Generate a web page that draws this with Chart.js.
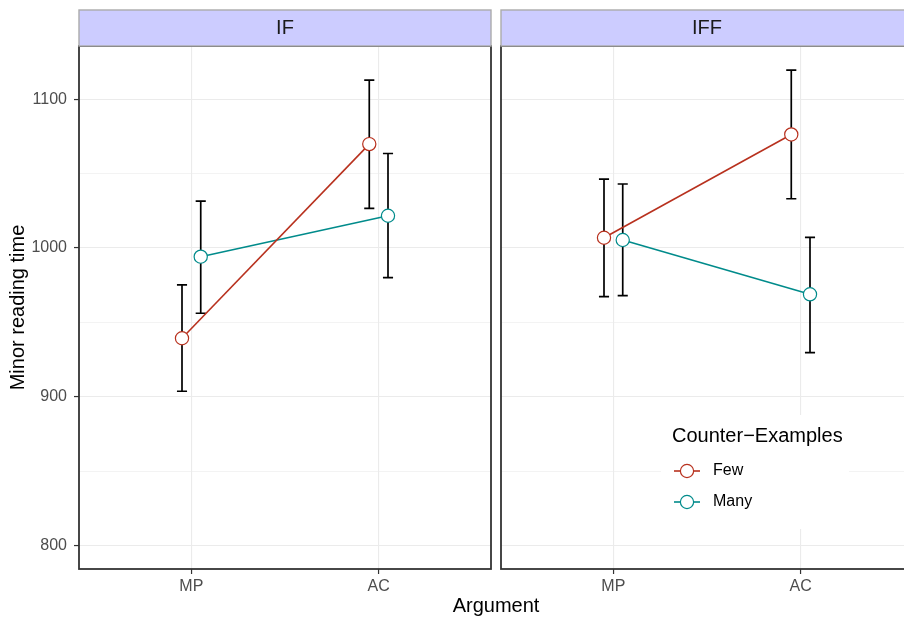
<!DOCTYPE html>
<html><head><meta charset="utf-8">
<script src="https://cdn.jsdelivr.net/npm/chart.js@4/dist/chart.umd.min.js"></script>
<style>
html,body{margin:0;padding:0;background:#fff;overflow:hidden;}
#wrap{position:relative;width:904px;height:619px;overflow:hidden;background:#fff;}
#c1{position:absolute;left:0;top:0;}
#c2{position:absolute;left:492px;top:0;}
#xtitle{position:absolute;left:296px;width:400px;text-align:center;top:593px;font:20px "Liberation Sans",Arial,sans-serif;color:#000;line-height:24px;}
</style></head><body>
<div id="wrap">
<canvas id="c1" width="492" height="619"></canvas>
<canvas id="c2" width="421" height="619"></canvas>
<div id="xtitle">Argument</div>
</div>
<script>
const categories = ['MP', 'AC'];
const panels = ['IF', 'IFF'];
const seriesNames = ['Few', 'Many'];
const seriesColors = ['#B8311E', '#008B8B'];
const yTicks = [800, 850, 900, 950, 1000, 1050, 1100];
const legendTitle = 'Counter\u2212Examples';

// IF panel
const ifFew = [939.4, 1069.8];
const ifFewLo = [903.8, 1026.6];
const ifFewHi = [975.2, 1112.8];
const ifMany = [994.2, 1021.7];
const ifManyLo = [956.2, 980.1];
const ifManyHi = [1031.5, 1063.5];

// IFF panel
const iffFew = [1006.9, 1076.3];
const iffFewLo = [967.3, 1033.1];
const iffFewHi = [1046.3, 1119.5];
const iffMany = [1005.4, 968.9];
const iffManyLo = [968.0, 929.7];
const iffManyHi = [1043.0, 1007.2];

const DODGE = 0.05;
const CAP = 0.027;
const FONT = '"Liberation Sans", Arial, sans-serif';

function mkDataset(si, vals, lo, hi) {
  const off = si === 0 ? -DODGE : DODGE;
  return {
    label: seriesNames[si],
    data: vals.map((v, i) => ({x: i + 1 + off, y: v})),
    errLo: lo, errHi: hi,
    borderColor: seriesColors[si],
    borderWidth: 1.6,
    pointRadius: 6.6,
    pointHoverRadius: 6.6,
    pointBorderWidth: 1.2,
    pointBackgroundColor: '#ffffff',
    pointBorderColor: seriesColors[si],
    fill: false,
    tension: 0
  };
}

const errorBars = {
  id: 'errorBars',
  beforeDatasetsDraw(chart) {
    const ctx = chart.ctx, xs = chart.scales.x, ys = chart.scales.y;
    ctx.save();
    ctx.strokeStyle = '#000';
    ctx.lineWidth = 1.7;
    chart.data.datasets.forEach(ds => {
      ds.data.forEach((p, i) => {
        const x = xs.getPixelForValue(p.x);
        const xl = xs.getPixelForValue(p.x - CAP), xr = xs.getPixelForValue(p.x + CAP);
        const yl = ys.getPixelForValue(ds.errLo[i]), yh = ys.getPixelForValue(ds.errHi[i]);
        ctx.beginPath();
        ctx.moveTo(x, yl); ctx.lineTo(x, yh);
        ctx.moveTo(xl, yl); ctx.lineTo(xr, yl);
        ctx.moveTo(xl, yh); ctx.lineTo(xr, yh);
        ctx.stroke();
      });
    });
    ctx.restore();
  }
};

const panelDeco = {
  id: 'panelDeco',
  afterDraw(chart, args, opts) {
    const ctx = chart.ctx, a = chart.chartArea;
    ctx.save();
    // panel border
    ctx.strokeStyle = '#333333';
    ctx.lineWidth = 1.8;
    ctx.strokeRect(a.left, a.top, a.right - a.left, a.bottom - a.top);
    // strip
    ctx.fillStyle = '#CCCCFF';
    ctx.fillRect(a.left, 10, a.right - a.left, a.top - 10);
    ctx.strokeStyle = '#ABABAB';
    ctx.lineWidth = 1.4;
    ctx.strokeRect(a.left, 10, a.right - a.left, a.top - 10);
    ctx.fillStyle = '#1A1A1A';
    ctx.font = '20px ' + FONT;
    ctx.textAlign = 'center';
    ctx.textBaseline = 'middle';
    ctx.fillText(opts.label, (a.left + a.right) / 2, 28);
    // legend
    if (opts.legend) {
      const L = opts.legend;
      ctx.fillStyle = '#ffffff';
      ctx.fillRect(L.x, L.y, L.w, L.h);
      ctx.fillStyle = '#000';
      ctx.textAlign = 'left';
      ctx.font = '20px ' + FONT;
      ctx.fillText(legendTitle, L.x + 11, L.y + 21);
      seriesNames.forEach((n, i) => {
        const cy = L.y + 56 + i * 31;
        ctx.strokeStyle = seriesColors[i];
        ctx.lineWidth = 1.6;
        ctx.beginPath();
        ctx.moveTo(L.x + 13, cy); ctx.lineTo(L.x + 39, cy);
        ctx.stroke();
        ctx.beginPath();
        ctx.arc(L.x + 26, cy, 6.6, 0, Math.PI * 2);
        ctx.fillStyle = '#fff';
        ctx.fill();
        ctx.lineWidth = 1.2;
        ctx.stroke();
        ctx.fillStyle = '#000';
        ctx.font = '16px ' + FONT;
        ctx.fillText(n, L.x + 52, cy);
      });
    }
    ctx.restore();
  }
};

function makePanel(canvasId, pi, few, fewLo, fewHi, many, manyLo, manyHi, showY, padLeft, padRight, legend) {
  return new Chart(document.getElementById(canvasId), {
    type: 'line',
    data: {datasets: [mkDataset(0, few, fewLo, fewHi), mkDataset(1, many, manyLo, manyHi)]},
    options: {
      responsive: false,
      animation: false,
      devicePixelRatio: 1,
      layout: {autoPadding: false, padding: {top: 46, right: padRight, bottom: 0, left: padLeft}},
      plugins: {
        legend: {display: false},
        tooltip: {enabled: false},
        panelDeco: {label: panels[pi], legend: legend}
      },
      events: [],
      scales: {
        x: {
          type: 'linear', min: 0.4, max: 2.6,
          afterBuildTicks: s => { s.ticks = categories.map((c, i) => ({value: i + 1})); },
          afterFit: s => { s.height = 50; s.paddingLeft = 0; s.paddingRight = 0; },
          ticks: {
            autoSkip: false, maxRotation: 0,
            callback: v => categories[Math.round(v) - 1],
            color: '#4D4D4D', font: {family: FONT, size: 16}, padding: 3
          },
          grid: {color: '#EBEBEB', lineWidth: 1.1, tickColor: '#333333', tickLength: 5, tickWidth: 1.2},
          border: {display: false}
        },
        y: {
          type: 'linear', min: 784.4, max: 1135.7,
          afterBuildTicks: s => { s.ticks = yTicks.map(v => ({value: v})); },
          afterFit: s => { s.width = showY ? 79 : 0; s.paddingTop = 0; s.paddingBottom = 0; },
          ticks: {
            display: showY, autoSkip: false,
            callback: v => (v % 100 === 0 ? String(v) : ''),
            color: '#4D4D4D', font: {family: FONT, size: 16}, padding: 7
          },
          title: {
            display: showY, text: 'Minor reading time', color: '#000',
            font: {family: FONT, size: 20}, padding: {top: 6, bottom: 0}
          },
          grid: {
            color: '#EBEBEB',
            lineWidth: c => (c.tick && c.tick.value % 100 === 0 ? 1.1 : 0.6),
            drawTicks: showY,
            tickLength: 5,
            tickWidth: 1.2,
            tickColor: c => (c.tick && c.tick.value % 100 === 0 ? '#333333' : 'rgba(0,0,0,0)')
          },
          border: {display: false}
        }
      }
    },
    plugins: [errorBars, panelDeco]
  });
}

makePanel('c1', 0, ifFew, ifFewLo, ifFewHi, ifMany, ifManyLo, ifManyHi, true, 0, 1, null);
makePanel('c2', 1, iffFew, iffFewLo, iffFewHi, iffMany, iffManyLo, iffManyHi, false, 9, 0,
  {x: 661 - 492, y: 415, w: 188, h: 114});
</script>
</body></html>
